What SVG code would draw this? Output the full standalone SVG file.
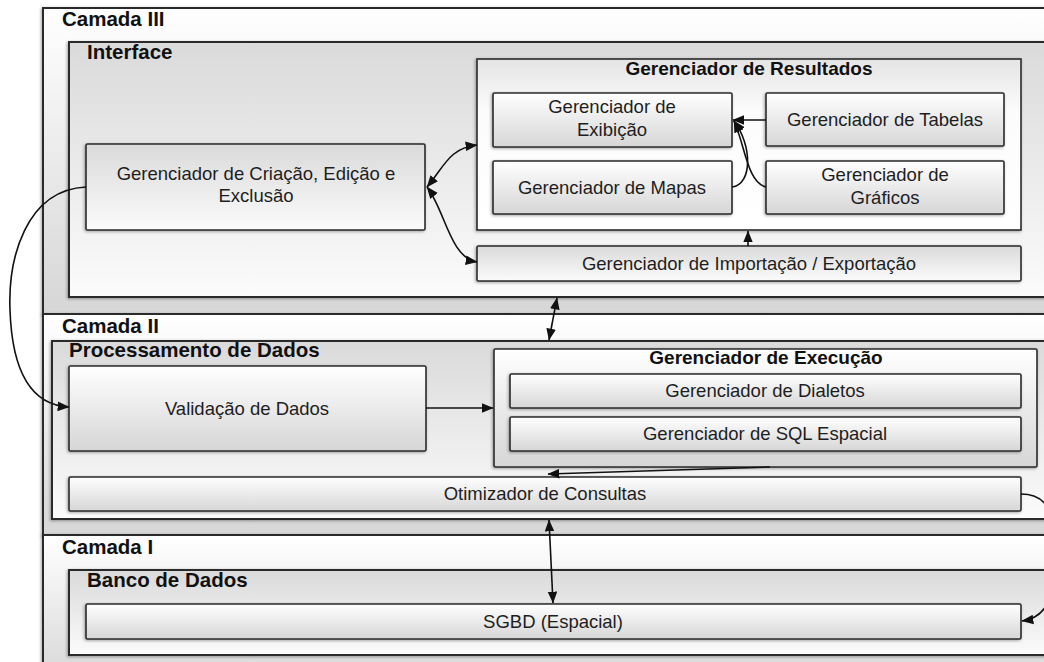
<svg xmlns="http://www.w3.org/2000/svg" width="1044" height="662" viewBox="0 0 1044 662">
<style>
.box{stroke:#2a2a2a;stroke-width:1.6;filter:url(#sh)}
.outer{stroke:#2a2a2a;stroke-width:2;filter:url(#sh)}
.t{font-family:"Liberation Sans",Arial,sans-serif;font-size:18.5px;fill:#1e1e1e;text-anchor:middle}
.h{font-family:"Liberation Sans",Arial,sans-serif;font-size:20.5px;font-weight:bold;fill:#111}
.h2{font-family:"Liberation Sans",Arial,sans-serif;font-size:19px;font-weight:bold;fill:#111;text-anchor:middle}
.c{fill:none;stroke:#111;stroke-width:1.6}
</style>
<defs>
<linearGradient id="gDown" x1="0" y1="0" x2="0" y2="1"><stop offset="0" stop-color="#ffffff"/><stop offset="1" stop-color="#d6d6d6"/></linearGradient>
<linearGradient id="gUp" x1="0" y1="0" x2="0" y2="1"><stop offset="0" stop-color="#dadada"/><stop offset="1" stop-color="#fbfbfb"/></linearGradient>
<linearGradient id="gRes" x1="0" y1="0" x2="0" y2="1"><stop offset="0" stop-color="#e4e4e4"/><stop offset="0.3" stop-color="#fcfcfc"/><stop offset="1" stop-color="#ffffff"/></linearGradient>
<filter id="sh" x="-5%" y="-5%" width="110%" height="115%"><feDropShadow dx="-1" dy="1" stdDeviation="1.5" flood-color="#000" flood-opacity="0.35"/></filter>
<marker id="ah" viewBox="0 0 10 8" refX="9.5" refY="4" markerWidth="12" markerHeight="10" markerUnits="userSpaceOnUse" orient="auto-start-reverse"><path d="M0,0 L10,4 L0,8 z" fill="#111"/></marker>
</defs>
<rect width="1044" height="662" fill="#ffffff"/>

<g id="camada3">
<rect class="outer" x="43" y="8" width="1030" height="306" fill="url(#gDown)"/>
<text class="h" x="62" y="26">Camada III</text>
</g>
<g id="camada2">
<rect class="outer" x="43" y="314" width="1030" height="221" fill="url(#gDown)"/>
<text class="h" x="62" y="333">Camada II</text>
</g>
<g id="camada1">
<rect class="outer" x="43" y="535" width="1030" height="150" fill="url(#gDown)"/>
<text class="h" x="62" y="554">Camada I</text>
</g>

<g id="interface">
<rect class="outer" x="69" y="42" width="1000" height="255" fill="url(#gUp)"/>
<text class="h" x="87" y="59">Interface</text>
</g>
<g id="criacao">
<rect class="box" x="86" y="144" width="339" height="86" rx="1.5" fill="url(#gUp)"/>
<text class="t" x="256" y="180">Gerenciador de Criação, Edição e</text>
<text class="t" x="256" y="202">Exclusão</text>
</g>
<g id="resultados">
<rect class="box" x="477" y="59" width="544" height="171" fill="url(#gRes)"/>
<text class="h2" x="749" y="75">Gerenciador de Resultados</text>
</g>
<g id="exibicao">
<rect class="box" x="493" y="93" width="239" height="54" rx="1.5" fill="url(#gDown)"/>
<text class="t" x="612" y="113">Gerenciador de</text>
<text class="t" x="612" y="136">Exibição</text>
</g>
<g id="tabelas">
<rect class="box" x="766" y="93" width="238" height="53" rx="1.5" fill="url(#gDown)"/>
<text class="t" x="885" y="126">Gerenciador de Tabelas</text>
</g>
<g id="mapas">
<rect class="box" x="493" y="161" width="239" height="53" rx="1.5" fill="url(#gDown)"/>
<text class="t" x="612" y="194">Gerenciador de Mapas</text>
</g>
<g id="graficos">
<rect class="box" x="766" y="161" width="238" height="53" rx="1.5" fill="url(#gDown)"/>
<text class="t" x="885" y="181">Gerenciador de</text>
<text class="t" x="885" y="204">Gráficos</text>
</g>
<g id="importacao">
<rect class="box" x="477" y="246" width="544" height="35" rx="1.5" fill="url(#gUp)"/>
<text class="t" x="749" y="270">Gerenciador de Importação / Exportação</text>
</g>

<g id="processamento">
<rect class="outer" x="52" y="341" width="1020" height="178" fill="url(#gUp)"/>
<text class="h" x="69" y="357">Processamento de Dados</text>
</g>
<g id="validacao">
<rect class="box" x="69" y="366" width="357" height="85" rx="1.5" fill="url(#gDown)"/>
<text class="t" x="247" y="415">Validação de Dados</text>
</g>
<g id="execucao">
<rect class="box" x="494" y="349" width="543" height="118" rx="1.5" fill="url(#gDown)"/>
<text class="h2" x="766" y="364">Gerenciador de Execução</text>
</g>
<g id="dialetos">
<rect class="box" x="510" y="374" width="511" height="34" rx="1.5" fill="url(#gDown)"/>
<text class="t" x="765" y="397">Gerenciador de Dialetos</text>
</g>
<g id="sqlespacial">
<rect class="box" x="510" y="417" width="511" height="34" rx="1.5" fill="url(#gDown)"/>
<text class="t" x="765" y="440">Gerenciador de SQL Espacial</text>
</g>
<g id="otimizador">
<rect class="box" x="69" y="477" width="952" height="34" rx="1.5" fill="url(#gDown)"/>
<text class="t" x="545" y="500">Otimizador de Consultas</text>
</g>

<g id="banco">
<rect class="outer" x="69" y="570" width="1000" height="85" fill="url(#gUp)"/>
<text class="h" x="87" y="587">Banco de Dados</text>
</g>
<g id="sgbd">
<rect class="box" x="86" y="604" width="935" height="35" rx="1.5" fill="url(#gDown)"/>
<text class="t" x="553" y="628">SGBD (Espacial)</text>
</g>

<g id="connectors">
<path class="c" d="M427,187 C445,165 450,148 477,145" marker-start="url(#ah)" marker-end="url(#ah)"/>
<path class="c" d="M427,187 C445,210 450,258 477,262" marker-start="url(#ah)" marker-end="url(#ah)"/>
<path class="c" d="M86,187 C25,190 8,260 10,310 C12,370 30,405 69,407" marker-end="url(#ah)"/>
<path class="c" d="M766,120 L733,120" marker-end="url(#ah)"/>
<path class="c" d="M732,187 C753,184 752,145 734,121" marker-end="url(#ah)"/>
<path class="c" d="M766,187 C747,182 745,145 734,121" marker-end="url(#ah)"/>
<path class="c" d="M748,246 L748,231" marker-end="url(#ah)"/>
<path class="c" d="M549,340 L557,298" marker-start="url(#ah)" marker-end="url(#ah)"/>
<path class="c" d="M426,408 L493,408" marker-end="url(#ah)"/>
<path class="c" d="M770,467 L548,474" marker-end="url(#ah)"/>
<path class="c" d="M549,520 L553,603" marker-start="url(#ah)" marker-end="url(#ah)"/>
<path class="c" d="M1021,494 C1045,494 1056,510 1056,550 C1056,600 1045,618 1022,621" marker-end="url(#ah)"/>
</g>
</svg>
